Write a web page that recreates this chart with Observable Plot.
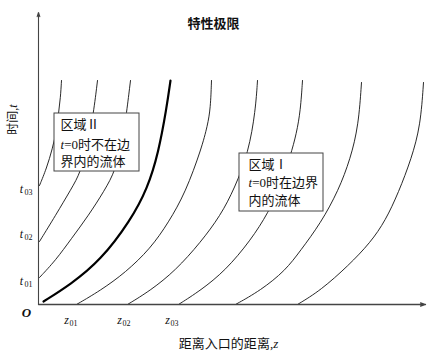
<!DOCTYPE html>
<html><head><meta charset="utf-8">
<script src="https://cdn.jsdelivr.net/npm/d3@7"></script>
<script src="https://cdn.jsdelivr.net/npm/@observablehq/plot@0.6"></script>
<style>body{margin:0;background:#fff;} #chart svg{display:block;}</style>
</head><body><div id="chart"></div>
<script>
// ---- data (z = distance, t = time) ----
const title = "特性极限";
const xLabel = "距离入口的距离,z";
const yLabel = "时间,t";
const originLabel = "O";

// curves starting on the t-axis (region II)
const curveT03 = [[1,119],[8,136],[14,156],[18,174],[20,191],[22,207],[23,224]];
const curveT02 = [[1,63],[17,89],[33,116],[42,132],[49,159],[55,191],[59,224]];
const curveT01 = [[1,27],[17,44],[33,66],[50,89],[66,114],[77,134],[84,164],[88,191],[92,224]];
// characteristic limit (bold)
const curveLimit = [[5,3],[32,20],[62,44],[92,84],[109,116],[120,152],[128,196],[132,224]];
// curves starting on the z-axis (region I)
const curveZ01 = [[38,0],[62,14],[87,32],[112,56],[130,82],[147,112],[163,156],[169,179],[172,196],[173,224]];
const curveZ02 = [[89,0],[112,14],[137,34],[162,62],[182,89],[196,116],[210,152],[217,194],[219,224]];
const curveZ03 = [[140,0],[162,14],[187,34],[212,64],[230,92],[242,119],[252,149],[258,171],[262,194],[264,224]];
const curveZ04 = [[197,0],[222,14],[247,34],[262,54],[282,81],[300,114],[312,146],[320,179],[323,222]];
const curveZ05 = [[259,0],[282,14],[310,39],[332,62],[347,84],[360,112],[373,146],[382,179],[385,222]];

const tTickValues = [23, 70, 115];
const tTickLabels = ["01", "02", "03"];
const zTickValues = [32, 85, 133];
const zTickLabels = ["01", "02", "03"];

const regionIILines = ["区域Ⅱ", "t=0时不在边", "界内的流体"];
const regionILines = ["区域Ⅰ", "t=0时在边界", "内的流体"];

// ---- build tables ----
const thinCurves = [curveT03, curveT02, curveT01, curveZ01, curveZ02, curveZ03, curveZ04, curveZ05];
const thinRows = thinCurves.flatMap((c, i) => c.map(([z, t]) => ({id: i, z, t})));
const limitRows = curveLimit.map(([z, t]) => ({z, t}));

// ---- layout (not data) ----
const font = "'Liberation Serif','Noto Sans CJK SC',serif";
const boxII = {x1: 16, x2: 101, y1: 133, y2: 191, tx: 22, ty: [180, 160, 143]};
const boxI  = {x1: 201, x2: 285, y1: 93, y2: 151, tx: 210, ty: [140, 122, 104]};
const axisEnds = {zMax: 387, tMax: 292};

const boxText = (lines, b) => lines.map((s, i) => ({s, x: b.tx, y: b.ty[i]}));

const chart = Plot.plot({
  width: 447, height: 355, margin: 0,
  x: {domain: [-38, 409], axis: null},
  y: {domain: [-51, 304], axis: null},
  marks: [
    Plot.line(thinRows, {x: "z", y: "t", z: "id", curve: "basis", stroke: "#111", strokeWidth: 0.9}),
    Plot.line(limitRows, {x: "z", y: "t", curve: "basis", stroke: "#000", strokeWidth: 2.2}),
    Plot.arrow([0], {x1: 0, y1: 0, x2: axisEnds.zMax, y2: 0, stroke: "#444", strokeWidth: 1.3, headLength: 6, headAngle: 35}),
    Plot.arrow([0], {x1: 0, y1: 0, x2: 0, y2: axisEnds.tMax, stroke: "#444", strokeWidth: 1.1, headLength: 6, headAngle: 35}),
    Plot.rect([boxII, boxI], {x1: "x1", x2: "x2", y1: "y1", y2: "y2", fill: "white", stroke: "#444", strokeWidth: 1}),
    Plot.text([...boxText(regionIILines, boxII), ...boxText(regionILines, boxI)], {
      x: "x", y: "y", text: "s", textAnchor: "start", lineAnchor: "middle",
      fontSize: 13, fontFamily: font, fill: "#111"
    }),
    Plot.text([title], {x: 175, y: 281, text: d => d, fontSize: 13, fontWeight: "bold", fontFamily: font, fill: "#111", lineAnchor: "middle"}),
    Plot.text([xLabel], {x: 190, y: -39, text: d => d, fontSize: 13, fontFamily: font, fill: "#111", lineAnchor: "middle"}),
    Plot.text([yLabel], {x: -25, y: 185, text: d => d, rotate: -90, fontSize: 12, fontFamily: font, fill: "#111", lineAnchor: "middle"}),
    Plot.text([originLabel], {x: -12, y: -8, text: d => d, fontSize: 13, fontStyle: "italic", fontWeight: "bold", fontFamily: font, fill: "#111", lineAnchor: "middle"}),
    Plot.text(tTickValues, {x: -17, y: d => d, text: () => "t", fontSize: 12, fontStyle: "italic", fontFamily: font, fill: "#111", lineAnchor: "middle"}),
    Plot.text(tTickValues, {x: -10, y: d => d, text: (d, i) => tTickLabels[i], dy: 3, fontSize: 8, fontFamily: font, fill: "#111", lineAnchor: "middle"}),
    Plot.text(zTickValues, {x: d => d, y: -16, text: () => "z", dx: -4, fontSize: 12, fontStyle: "italic", fontFamily: font, fill: "#111", lineAnchor: "middle"}),
    Plot.text(zTickValues, {x: d => d, y: -16, text: (d, i) => zTickLabels[i], dx: 3, dy: 3, fontSize: 8, fontFamily: font, fill: "#111", lineAnchor: "middle"})
  ]
});

// italicise variable letters (t in "t=0", and ",t" / ",z")
chart.querySelectorAll("text, tspan").forEach(el => {
  if (el.children.length) return;
  const s = el.textContent;
  if (!/t=|,t|,z/.test(s)) return;
  el.textContent = "";
  for (let i = 0; i < s.length; i++) {
    const c = s[i];
    const ts = document.createElementNS("http://www.w3.org/2000/svg", "tspan");
    ts.textContent = c;
    if ((c === "t" || c === "z") && (s[i + 1] === "=" || s[i - 1] === ",")) ts.setAttribute("font-style", "italic");
    el.appendChild(ts);
  }
});

document.getElementById("chart").appendChild(chart);
</script>
</body></html>
